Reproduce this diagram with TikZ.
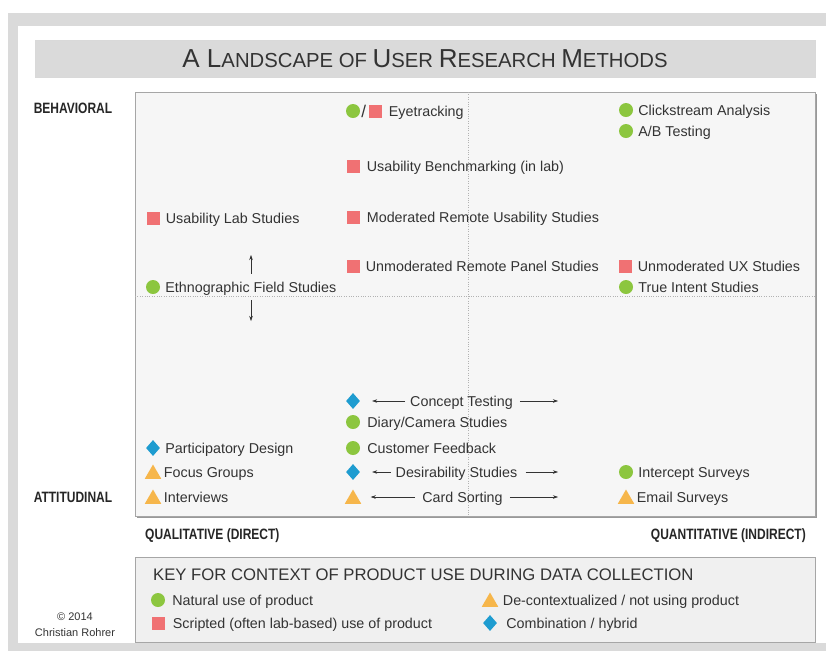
\documentclass[tikz,border=0pt]{standalone}
\usepackage{fontspec}
\setmainfont{Liberation Sans}
\newfontfamily\axisfont[FakeStretch=0.8]{Liberation Sans}
\usetikzlibrary{shapes.geometric, positioning, arrows.meta}

\definecolor{natgreen}{HTML}{8CC63F}
\definecolor{scrred}{HTML}{F07173}
\definecolor{decorange}{HTML}{F6B64B}
\definecolor{hybblue}{HTML}{1E9CD0}
\definecolor{framegray}{HTML}{DADADA}
\definecolor{plotgray}{HTML}{F6F6F6}
\definecolor{keygray}{HTML}{F0F0F0}
\definecolor{txtgray}{HTML}{333333}

\tikzset{
  nat/.style={circle, fill=natgreen, minimum size=14pt, inner sep=0pt},
  scr/.style={rectangle, fill=scrred, minimum size=13pt, inner sep=0pt},
  dec/.style={regular polygon, regular polygon sides=3, fill=decorange,
    minimum size=19pt, inner sep=0pt},
  hyb/.style={diamond, fill=hybblue, minimum width=14pt, minimum height=16pt,
    inner sep=0pt},
  method/.style={font=\fontsize{14.3}{16}\selectfont, text=txtgray, inner sep=0pt,
    text depth=0pt},
  axislbl/.style={font=\axisfont\bfseries\fontsize{15}{16}\selectfont,
    text=black!85, inner sep=0pt},
  spanarrow/.style={-{Stealth[length=5pt,width=3.5pt]}, line width=0.5pt, black!80},
}

\begin{document}
\begin{tikzpicture}[x=1pt, y=-1pt]
\useasboundingbox (0,0) rectangle (826,657);
% frame
\fill[framegray] (8,13) rectangle (826,651);
\fill[white] (18,26) rectangle (826,643);

% title
\node[fill=framegray, draw=black!15, minimum width=780pt, minimum height=37pt,
    text=txtgray] (title) at (425,58.5)
    {{\fontsize{26}{26}\selectfont A L}{\fontsize{20.3}{21}\selectfont ANDSCAPE OF
    }{\fontsize{26}{26}\selectfont U}{\fontsize{20.3}{21}\selectfont SER
    }{\fontsize{26}{26}\selectfont R}{\fontsize{20.3}{21}\selectfont ESEARCH
    }{\fontsize{26}{26}\selectfont M}{\fontsize{20.3}{21}\selectfont ETHODS}};

% plot area
\fill[black!40] (136.5,93.5) rectangle (816.5,517.5);
\node[fill=plotgray, draw=black!35, minimum width=680pt, minimum height=424pt,
    inner sep=0pt] (plot) at (475,304) {};
\draw[black!30, dotted] (468,92) -- (468,516);
\draw[black!30, dotted] (135,296) -- (815,296);

\node[axislbl] (beh) at (73,108) {BEHAVIORAL};
\node[axislbl] (att) at (73,497) {ATTITUDINAL};
\node[axislbl, anchor=west] (qual) at (145,536) {QUALITATIVE (DIRECT)};
\node[axislbl, anchor=east] (quan) at (806,536) {QUANTITATIVE (INDIRECT)};

% behavioral methods
\node[nat] (eye1) at (353,111) {};
\node[method, right=1pt of eye1, font=\fontsize{17}{17}\selectfont] (eyes) {/};
\node[scr, right=2pt of eyes] (eye2) {};
\node[method, right=7pt of eye2] (eye) {Eyetracking};

\node[nat] (cs1) at (626,110) {};
\node[method, right=5pt of cs1] (cs) {Clickstream Analysis};
\node[nat] (ab1) at (626,131) {};
\node[method, right=5pt of ab1] (ab) {A/B Testing};

\node[scr] (ub1) at (353,166) {};
\node[method, right=7pt of ub1] (ub) {Usability Benchmarking (in lab)};
\node[scr] (ul1) at (153,218) {};
\node[method, right=6pt of ul1] (ul) {Usability Lab Studies};
\node[scr] (mr1) at (353,217) {};
\node[method, right=7pt of mr1] (mr) {Moderated Remote Usability Studies};
\node[scr] (up1) at (353,266) {};
\node[method, right=6pt of up1] (up) {Unmoderated Remote Panel Studies};
\node[scr] (ux1) at (625,266) {};
\node[method, right=6pt of ux1] (ux) {Unmoderated UX Studies};
\node[nat] (eth1) at (153,287) {};
\node[method, right=5pt of eth1] (eth) {Ethnographic Field Studies};
\node[nat] (ti1) at (626,287) {};
\node[method, right=5pt of ti1] (ti) {True Intent Studies};

\coordinate (ethup) at (251,255);
\coordinate (ethdn) at (251,321);
\draw[spanarrow, shorten <=8pt] (eth.north -| ethup) -- (ethup);
\draw[spanarrow, shorten <=8pt] (eth.south -| ethdn) -- (ethdn);

% attitudinal methods
\node[hyb] (ct1) at (353,401) {};
\node[method] (ct) at (461.5,401) {Concept Testing};
\coordinate (ctr) at (558,401);
\draw[spanarrow, shorten <=5pt, shorten >=12pt] (ct.west) -- (ct.west -| ct1.east);
\draw[spanarrow, shorten <=7pt] (ct.east) -- (ctr);

\node[nat] (dc1) at (353,422) {};
\node[method, right=7pt of dc1] (dc) {Diary/Camera Studies};
\node[hyb] (pd1) at (153,448) {};
\node[method, right=5pt of pd1] (pd) {Participatory Design};
\node[nat] (cf1) at (353,448) {};
\node[method, right=7pt of cf1] (cf) {Customer Feedback};
\node[dec] (fg1) at (153,474) {};
\node[method, right=5pt of fg1, yshift=2pt] (fg) {Focus Groups};

\node[hyb] (ds1) at (353,472) {};
\node[method] (ds) at (456.5,472) {Desirability Studies};
\coordinate (dsr) at (558,472);
\draw[spanarrow, shorten <=5pt, shorten >=12pt] (ds.west) -- (ds.west -| ds1.east);
\draw[spanarrow, shorten <=8pt] (ds.east) -- (dsr);

\node[nat] (is1) at (626,472) {};
\node[method, right=5pt of is1] (is) {Intercept Surveys};
\node[dec] (iv1) at (153,499) {};
\node[method, right=5pt of iv1, yshift=2pt] (iv) {Interviews};

\node[dec] (cso1) at (353,499) {};
\node[method] (cso) at (462.5,497) {Card Sorting};
\coordinate (csor) at (558,497);
\draw[spanarrow, shorten <=7pt, shorten >=12pt] (cso.west) -- (cso.west -| cso1.east);
\draw[spanarrow, shorten <=7pt] (cso.east) -- (csor);

\node[dec] (es1) at (626,499) {};
\node[method, right=5pt of es1, yshift=2pt] (es) {Email Surveys};

% key
\node[fill=keygray, draw=black!35, minimum width=680pt, minimum height=85pt,
    inner sep=0pt] (key) at (475,599.5) {};
\node[method, anchor=west, font=\fontsize{16.7}{18}\selectfont] (keyttl) at (153,575)
    {KEY FOR CONTEXT OF PRODUCT USE DURING DATA COLLECTION};
\node[nat] (k1) at (158,600) {};
\node[method, right=7pt of k1] (k1t) {Natural use of product};
\node[scr] (k2) at (158,623) {};
\node[method, right=8pt of k2] (k2t) {Scripted (often lab-based) use of product};
\node[dec] (k3) at (490,602) {};
\node[method, right=7pt of k3, yshift=2pt] (k3t) {De-contextualized / not using product};
\node[hyb] (k4) at (490,623) {};
\node[method, right=9pt of k4] (k4t) {Combination / hybrid};

\node[method, font=\fontsize{11}{12}\selectfont] (copy) at (75,617) {© 2014};
\node[method, font=\fontsize{11}{12}\selectfont] (auth) at (75,632) {Christian Rohrer};
\end{tikzpicture}
\end{document}
